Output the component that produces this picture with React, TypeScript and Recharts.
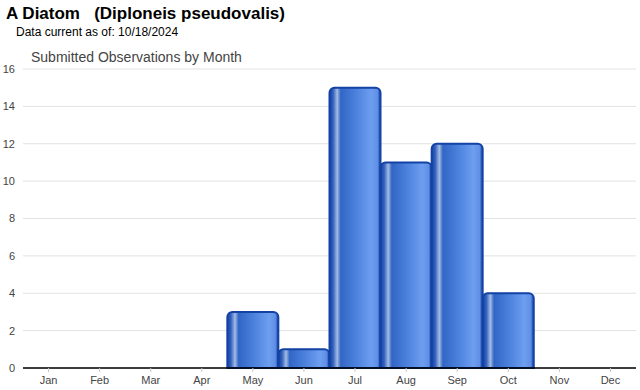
import { BarChart, Bar, XAxis, YAxis, CartesianGrid } from "recharts";

const months = ["Jan", "Feb", "Mar", "Apr", "May", "Jun", "Jul", "Aug", "Sep", "Oct", "Nov", "Dec"];
const observations = [0, 0, 0, 0, 3, 1, 15, 11, 12, 4, 0, 0];
const yTicks = [0, 2, 4, 6, 8, 10, 12, 14, 16];

const data = months.map((m, i) => ({ month: m, count: observations[i] }));

const font = "'Liberation Sans', Arial, sans-serif";

if (typeof document !== "undefined") {
  document.body.style.margin = "0";
}

export default function App() {
  return (
    <div style={{ position: "relative", width: 640, height: 390, background: "#fff", fontFamily: font }}>
      <div style={{ position: "absolute", left: 6, top: 4, fontSize: 17, fontWeight: "bold", color: "#000", whiteSpace: "pre" }}>
        {"A Diatom   (Diploneis pseudovalis)"}
      </div>
      <div style={{ position: "absolute", left: 16, top: 25, fontSize: 12, color: "#000" }}>
        Data current as of: 10/18/2024
      </div>
      <div style={{ position: "absolute", left: 31, top: 49, fontSize: 14, color: "#444" }}>
        Submitted Observations by Month
      </div>
      <BarChart
        width={640}
        height={390}
        data={data}
        margin={{ top: 69, right: 4, bottom: 0, left: 3 }}
        barCategoryGap={0}
      >
        <defs>
          <linearGradient id="barGrad" x1="0" y1="0" x2="1" y2="0">
            <stop offset="0%" stopColor="#1544a6" />
            <stop offset="7%" stopColor="#3260bd" />
            <stop offset="15%" stopColor="#a3bce2" />
            <stop offset="22%" stopColor="#3266c6" />
            <stop offset="50%" stopColor="#4a7fdb" />
            <stop offset="82%" stopColor="#6d9ef0" />
            <stop offset="94%" stopColor="#5f90e6" />
            <stop offset="100%" stopColor="#1544a6" />
          </linearGradient>
        </defs>
        <CartesianGrid vertical={false} stroke="#e2e2e2" />
        <XAxis
          dataKey="month"
          height={22}
          tick={{ fill: "#444", fontSize: 11, fontFamily: font }}
          axisLine={{ stroke: "#000", strokeWidth: 1.5 }}
          tickLine={{ stroke: "#c8c8c8" }}
          tickSize={4}
          tickMargin={4}
        />
        <YAxis
          width={20}
          domain={[0, 16]}
          ticks={yTicks}
          interval={0}
          axisLine={false}
          tickLine={false}
          tick={{ fill: "#444", fontSize: 11, fontFamily: font }}
        />
        <Bar
          dataKey="count"
          fill="url(#barGrad)"
          stroke="#1242a4"
          strokeWidth={2}
          radius={[5, 5, 0, 0]}
          isAnimationActive={false}
        />
      </BarChart>
    </div>
  );
}
